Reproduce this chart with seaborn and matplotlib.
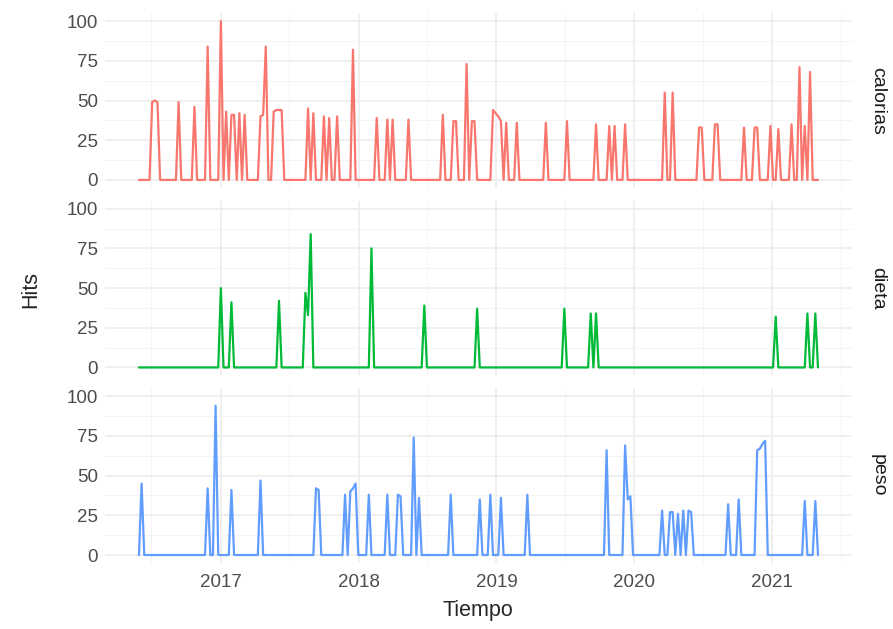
import numpy as np
import pandas as pd
import matplotlib
matplotlib.use("Agg")
import matplotlib.pyplot as plt
import matplotlib.dates as mdates
from matplotlib.ticker import MultipleLocator
import seaborn as sns

# weekly google-trends style data, week index counted from start_date
start_date = "2016-05-29"
n_weeks = 258

keywords = ["calorias", "dieta", "peso"]
colors = ["#F8766D", "#00BA38", "#619CFF"]

calorias_weeks = [5, 6, 7, 15, 21, 26, 31, 33, 35, 36, 38, 40, 46, 47, 48, 51, 52, 53, 54,
                  64, 66, 70, 72, 75, 81, 90, 94, 96, 102, 115, 119, 120, 124, 126, 127,
                  134, 135, 136, 137, 139, 143, 154, 162, 173, 178, 180, 184, 199, 202,
                  212, 213, 218, 219, 229, 233, 234, 239, 242, 247, 250, 252, 254]
calorias_hits = [49, 50, 49, 49, 46, 84, 100, 43, 41, 41, 42, 41, 40, 41, 84, 43, 44, 44, 44,
                 45, 42, 40, 39, 40, 82, 39, 38, 38, 38, 41, 37, 37, 73, 37, 37,
                 44, 42, 40, 37, 36, 36, 36, 37, 35, 34, 34, 35, 55, 55,
                 33, 33, 35, 35, 33, 33, 33, 34, 32, 35, 71, 34, 68]

dieta_weeks = [31, 35, 53, 63, 64, 65, 88, 108, 128, 161, 171, 173, 241, 253, 256]
dieta_hits = [50, 41, 42, 47, 33, 84, 75, 39, 37, 37, 34, 34, 32, 34, 34]

peso_weeks = [1, 26, 29, 35, 46, 67, 68, 78, 80, 81, 82, 87, 94, 98, 99, 104, 106, 118,
              129, 133, 137, 147, 177, 184, 185, 186, 198, 201, 202, 204, 206, 208, 209,
              223, 227, 234, 235, 236, 237, 252, 256]
peso_hits = [45, 42, 94, 41, 47, 42, 41, 38, 40, 42, 45, 38, 38, 38, 37, 74, 36, 38,
             35, 38, 36, 38, 66, 69, 35, 37, 28, 27, 27, 26, 28, 28, 27,
             32, 35, 66, 67, 70, 72, 34, 34]

dates = pd.date_range(start_date, periods=n_weeks, freq="7D")
frames = []
for kw, wk, hv in [("calorias", calorias_weeks, calorias_hits),
                   ("dieta", dieta_weeks, dieta_hits),
                   ("peso", peso_weeks, peso_hits)]:
    hits = np.zeros(n_weeks)
    hits[wk] = hv
    frames.append(pd.DataFrame({"Tiempo": dates, "Hits": hits, "keyword": kw}))
df = pd.concat(frames, ignore_index=True)

sns.set_theme(style="white")
plt.rcParams["font.family"] = ["Liberation Sans", "DejaVu Sans"]

fig, axes = plt.subplots(3, 1, figsize=(8.93, 6.29), dpi=100, sharex=True)
fig.subplots_adjust(left=0.1176, right=0.954, top=0.979, bottom=0.105, hspace=0.074)

span = dates[-1] - dates[0]
xmin = dates[0] - span * 0.05
xmax = dates[-1] + span * 0.05

for ax, kw, col in zip(axes, keywords, colors):
    sns.lineplot(data=df[df.keyword == kw], x="Tiempo", y="Hits", color=col,
                 linewidth=1.6, ax=ax, legend=False)
    ax.set_ylim(-5, 105)
    ax.set_xlim(xmin, xmax)
    ax.set_yticks([0, 25, 50, 75, 100])
    ax.yaxis.set_minor_locator(MultipleLocator(12.5))
    ax.xaxis.set_major_locator(mdates.YearLocator())
    ax.xaxis.set_minor_locator(mdates.MonthLocator(bymonth=7))
    ax.xaxis.set_major_formatter(mdates.DateFormatter("%Y"))
    ax.grid(which="major", color="#EBEBEB", linewidth=1.1)
    ax.grid(which="minor", color="#F2F2F2", linewidth=0.6)
    ax.set_axisbelow(True)
    for s in ax.spines.values():
        s.set_visible(False)
    ax.tick_params(axis="both", which="both", length=0, labelsize=13.5,
                   labelcolor="#4D4D4D")
    ax.tick_params(axis="y", pad=5)
    ax.tick_params(axis="x", pad=8)
    ax.set_xlabel("")
    ax.set_ylabel("")
    ax.text(1.035, 0.5, kw, transform=ax.transAxes, rotation=-90,
            ha="center", va="center", fontsize=14, color="#1A1A1A")

fig.text(0.034, 0.54, "Hits", rotation=90, ha="center", va="center", fontsize=15.5)
fig.text(0.535, 0.03, "Tiempo", ha="center", va="center", fontsize=15.5)

fig.savefig("out.png", dpi=100)
